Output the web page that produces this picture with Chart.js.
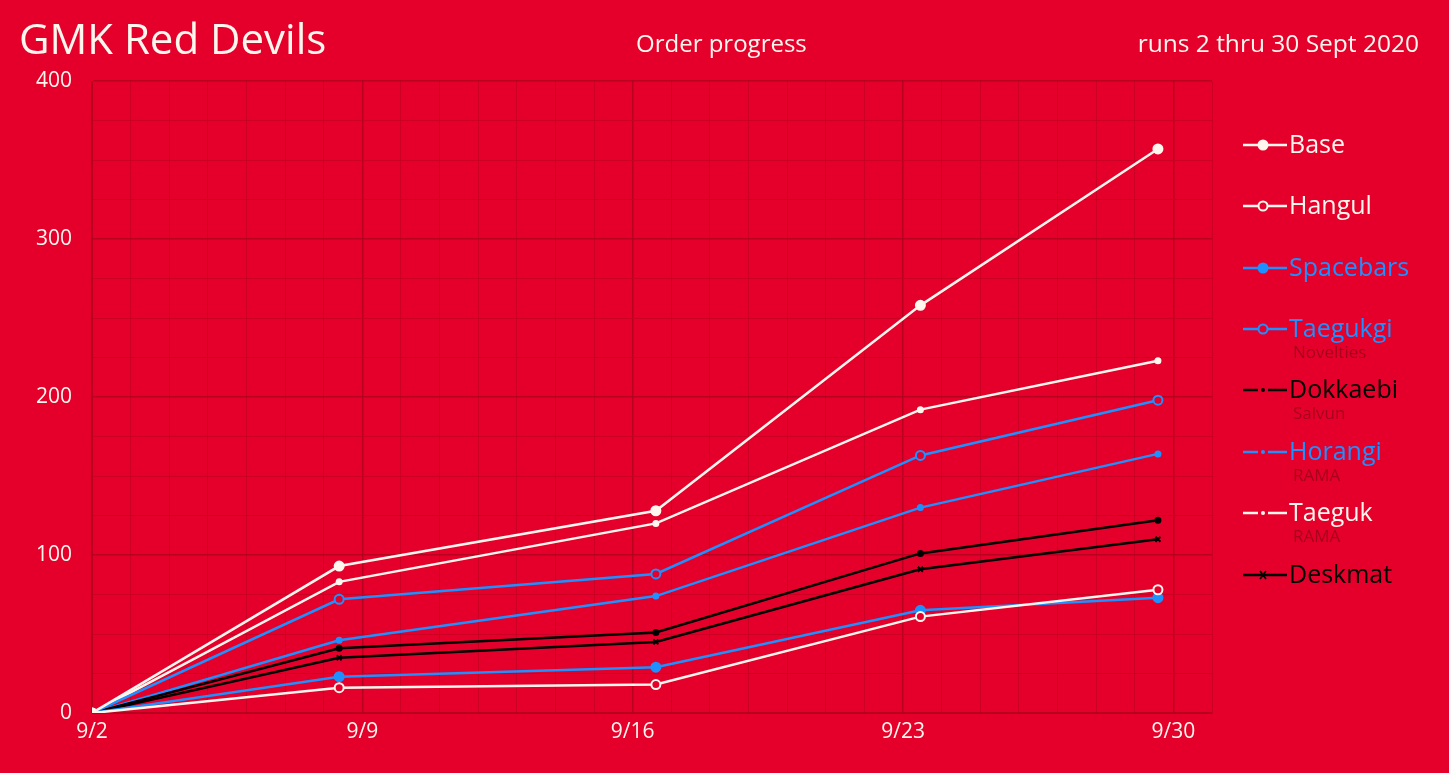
<!DOCTYPE html>
<html>
<head>
<meta charset="utf-8">
<script src="https://cdn.jsdelivr.net/npm/chart.js@4"></script>
<style>
  body { margin: 0; background: #e4002b; font-family: "Open Sans", sans-serif; overflow: hidden; }
  #wrap { position: relative; width: 1449px; height: 773px; }
  #chart { position: absolute; left: 0; top: 0; }
  .hdr { position: absolute; color: #fff6ee; white-space: nowrap; }
  #legend { position: absolute; left: 1243px; top: 0; }
  .item { position: absolute; left: 0; height: 30px; white-space: nowrap; }
  .item svg { position: absolute; left: 0; top: 0; }
  .item .lab { position: absolute; left: 46px; top: -4px; font-size: 25px; }
  .item .sub { position: absolute; left: 50px; top: 26px; font-size: 17px; color: #a8001c; }
</style>
</head>
<body>
<div id="wrap">
  <canvas id="chart" width="1449" height="773"></canvas>
  <div class="hdr" style="left:19px;top:12px;font-size:42px;line-height:52px;">GMK Red Devils</div>
  <div class="hdr" style="left:636px;top:26px;font-size:24px;">Order progress</div>
  <div class="hdr" style="right:30px;top:26px;font-size:24.5px;">runs 2 thru 30 Sept 2020</div>
  <div id="legend"></div>
</div>
<script>
const WHITE = '#fff6ee';
const BLUE = '#1e90ff';
const BLACK = '#000000';

// day of September for each snapshot
const days = [2, 8.4, 16.6, 23.45, 29.6];
const tickDays = [2, 9, 16, 23, 30];

const base = [0, 93, 128, 258, 357];
const hangul = [0, 16, 18, 61, 78];
const spacebars = [0, 23, 29, 65, 73];
const taegukgi = [0, 72, 88, 163, 198];
const dokkaebi = [0, 41, 51, 101, 122];
const horangi = [0, 46, 74, 130, 164];
const taeguk = [0, 83, 120, 192, 223];
const deskmat = [0, 35, 45, 91, 110];

const series = [
  { label: 'Base', data: base, color: WHITE, style: 'circle', r: 4.5, open: false },
  { label: 'Hangul', data: hangul, color: WHITE, style: 'circle', r: 4.5, open: true },
  { label: 'Spacebars', data: spacebars, color: BLUE, style: 'circle', r: 4.5, open: false },
  { label: 'Taegukgi', data: taegukgi, color: BLUE, style: 'circle', r: 4.5, open: true, sub: 'Novelties' },
  { label: 'Dokkaebi', data: dokkaebi, color: BLACK, style: 'circle', r: 2.5, open: false, sub: 'Salvun' },
  { label: 'Horangi', data: horangi, color: BLUE, style: 'circle', r: 2.5, open: false, sub: 'RAMA' },
  { label: 'Taeguk', data: taeguk, color: WHITE, style: 'circle', r: 2.5, open: false, sub: 'RAMA' },
  { label: 'Deskmat', data: deskmat, color: BLACK, style: 'crossRot', r: 3.5, open: false }
];

const RED_BG = '#e4002b';

new Chart(document.getElementById('chart'), {
  type: 'line',
  data: {
    datasets: series.map(s => ({
      label: s.label,
      data: s.data.map((v, i) => ({ x: days[i], y: v })),
      borderColor: s.color,
      borderWidth: 2.5,
      pointStyle: s.style,
      pointRadius: s.r,
      pointBorderWidth: 2,
      pointBorderColor: s.color,
      pointBackgroundColor: s.open ? RED_BG : s.color,
      tension: 0
    }))
  },
  options: {
    responsive: false,
    animation: false,
    layout: { padding: { top: 81, right: 237, bottom: 10, left: 0 } },
    plugins: { legend: { display: false }, tooltip: { enabled: false } },
    scales: {
      x: {
        type: 'linear', min: 2, max: 31,
        afterFit: a => { a.height = 50; },
        afterBuildTicks: a => { a.ticks = []; for (let d = 2; d <= 31; d++) a.ticks.push({ value: d }); },
        ticks: {
          color: WHITE, font: { family: 'Open Sans', size: 21 }, padding: 6, autoSkip: false, maxRotation: 0,
          callback: v => tickDays.includes(v) ? '9/' + v : ''
        },
        grid: {
          drawTicks: false,
          color: c => tickDays.includes(c.tick.value) ? '#b8001f' : '#cc0022',
          lineWidth: c => tickDays.includes(c.tick.value) ? 1.5 : 1
        },
        border: { color: '#b8001f' }
      },
      y: {
        min: 0, max: 400,
        afterFit: a => { a.width = 92; },
        ticks: {
          stepSize: 25, color: WHITE, font: { family: 'Open Sans', size: 21 }, padding: 20,
          callback: v => v % 100 === 0 ? v : ''
        },
        grid: {
          drawTicks: false,
          color: c => c.tick.value % 100 === 0 ? '#b8001f' : '#cc0022',
          lineWidth: c => c.tick.value % 100 === 0 ? 1.5 : 1
        },
        border: { color: '#b8001f' }
      }
    }
  }
});

// legend
const legendTops = [145, 206, 268, 329, 390, 452, 513, 575];
const legend = document.getElementById('legend');
series.forEach((s, i) => {
  const el = document.createElement('div');
  el.className = 'item';
  el.style.top = (legendTops[i] - 15) + 'px';
  let marker;
  if (s.style === 'crossRot') {
    marker = `<path d="M17 11 L23 19 M23 11 L17 19" stroke="${s.color}" stroke-width="1.8"/>`;
  } else if (s.r < 3) {
    marker = `<rect x="15" y="12" width="10" height="6" fill="${RED_BG}"/><circle cx="20" cy="15" r="2" fill="${s.color}"/>`;
  } else {
    marker = `<circle cx="20" cy="15" r="${s.r}" fill="${s.open ? RED_BG : s.color}" stroke="${s.color}" stroke-width="2"/>`;
  }
  el.innerHTML = `<svg width="46" height="30"><line x1="0" y1="15" x2="44" y2="15" stroke="${s.color}" stroke-width="2.5"/>${marker}</svg>` +
    `<span class="lab" style="color:${s.color}">${s.label}</span>` +
    (s.sub ? `<span class="sub">${s.sub}</span>` : '');
  legend.appendChild(el);
});
</script>
</body>
</html>
